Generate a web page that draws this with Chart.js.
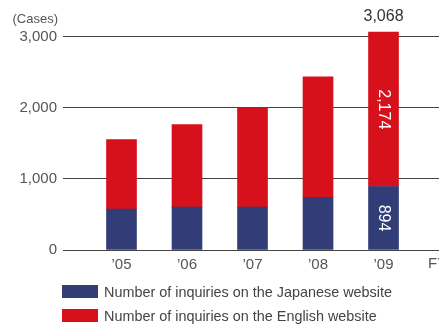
<!DOCTYPE html>
<html>
<head>
<meta charset="utf-8">
<script src="https://cdn.jsdelivr.net/npm/chart.js@4.4.1/dist/chart.umd.min.js"></script>
<style>
  body { margin: 0; background: #fff; font-family: "Liberation Sans", Arial, sans-serif; }
  #wrap { position: relative; width: 439px; height: 325px; overflow: hidden; }
  #myChart { position: absolute; left: 0; top: 0; }
  .unit { position: absolute; left: 0; width: 58px; top: 12px; font-size: 13px; line-height: 14px; color: #555; text-align: right; }
  .fy { position: absolute; left: 428px; top: 255px; font-size: 15px; line-height: 16px; color: #555; }
  .legend { position: absolute; left: 62px; font-size: 14.4px; line-height: 14px; color: #444; }
  .legend span.box { position: absolute; left: 0; top: 0; width: 36px; height: 13px; }
  .legend span.txt { position: absolute; left: 42px; top: 0; white-space: nowrap; }
</style>
</head>
<body>
<div id="wrap">
  <canvas id="myChart" width="439" height="325"></canvas>
  <div class="unit">(Cases)</div>
  <div class="fy">FY</div>
  <div class="legend" style="top:285px"><span class="box" style="background:#323d78"></span><span class="txt">Number of inquiries on the Japanese website</span></div>
  <div class="legend" style="top:309px"><span class="box" style="background:#d7111c"></span><span class="txt">Number of inquiries on the English website</span></div>
</div>
<script>
const years = ['\u201905', '\u201906', '\u201907', '\u201908', '\u201909'];
const japanese = [575, 603, 603, 743, 894];
const english = [981, 1163, 1397, 1696, 2174];
const yTicks = [0, 1000, 2000, 3000];
const labelIndex = 4;

const fmt = v => v.toLocaleString('en-US');

const valueLabels = {
  id: 'valueLabels',
  afterDatasetsDraw(chart) {
    const ctx = chart.ctx;
    const jp = chart.getDatasetMeta(0).data[labelIndex];
    const en = chart.getDatasetMeta(1).data[labelIndex];
    ctx.save();
    ctx.textAlign = 'center';
    ctx.textBaseline = 'middle';
    ctx.font = '16px "Liberation Sans", Arial, sans-serif';
    // total above the bar
    ctx.fillStyle = '#333';
    ctx.fillText(fmt(japanese[labelIndex] + english[labelIndex]), en.x, en.y - 15);
    // rotated values inside segments
    ctx.fillStyle = '#fff';
    [[jp, japanese], [en, english]].forEach(([el, arr]) => {
      ctx.save();
      ctx.translate(el.x, (el.y + el.base) / 2);
      ctx.rotate(Math.PI / 2);
      ctx.fillText(fmt(arr[labelIndex]), 0, 0);
      ctx.restore();
    });
    ctx.restore();
  }
};

const ctx = document.getElementById('myChart').getContext('2d');
new Chart(ctx, {
  type: 'bar',
  data: {
    datasets: [{
      label: 'Number of inquiries on the Japanese website',
      data: japanese.map((v, i) => ({ x: i, y: v })),
      backgroundColor: '#323d78'
    }, {
      label: 'Number of inquiries on the English website',
      data: english.map((v, i) => ({ x: i, y: v })),
      backgroundColor: '#d7111c'
    }]
  },
  options: {
    responsive: false,
    animation: false,
    barThickness: 30,
    layout: { padding: { top: 5, left: 0, right: 0, bottom: 0 } },
    plugins: { legend: { display: false }, tooltip: { enabled: false } },
    scales: {
      x: {
        type: 'linear',
        stacked: true,
        offset: false,
        min: -0.893,
        max: 4.847,
        grid: { display: false },
        border: { display: false },
        afterBuildTicks: s => { s.ticks = years.map((_, i) => ({ value: i })); },
        afterFit: s => { s.height = 75; },
        ticks: {
          callback: v => years[v],
          autoSkip: false,
          maxRotation: 0,
          padding: -2,
          color: '#555',
          font: { size: 15, family: '"Liberation Sans", Arial, sans-serif' }
        }
      },
      y: {
        stacked: true,
        min: 0,
        max: 3308,
        grid: { color: '#444', drawTicks: false, lineWidth: 1 },
        border: { display: false },
        afterBuildTicks: s => { s.ticks = yTicks.map(v => ({ value: v })); },
        afterFit: s => { s.width = 63; },
        ticks: {
          callback: v => fmt(v),
          padding: 6,
          color: '#555',
          font: { size: 15, family: '"Liberation Sans", Arial, sans-serif' }
        }
      }
    }
  },
  plugins: [valueLabels]
});
</script>
</body>
</html>
